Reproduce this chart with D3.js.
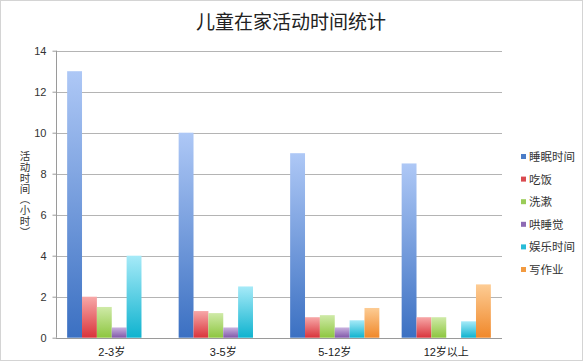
<!DOCTYPE html>
<html><head><meta charset="utf-8">
<script src="https://cdn.jsdelivr.net/npm/d3@7"></script>
<style>html,body{margin:0;padding:0;background:#fff;}svg{display:block;}</style>
</head><body>
<script>
const categories = ["2-3岁", "3-5岁", "5-12岁", "12岁以上"];
const seriesNames = ["睡眠时间", "吃饭", "洗漱", "哄睡觉", "娱乐时间", "写作业"];
const sleep   = [13, 10, 9, 8.5];
const meal    = [2, 1.3, 1.0, 1.0];
const wash    = [1.5, 1.2, 1.1, 1.0];
const coax    = [0.5, 0.5, 0.5, 0];
const play    = [4, 2.5, 0.85, 0.8];
const homework= [0, 0, 1.45, 2.6];
const yTicks = [0, 2, 4, 6, 8, 10, 12, 14];
const seriesValues = [sleep, meal, wash, coax, play, homework];
const colors = [
  ["#aec8f6", "#3b70c2"],
  ["#f7a8a8", "#d9343b"],
  ["#cfeaa8", "#8dc63f"],
  ["#c9b2df", "#8058a9"],
  ["#a6eaf8", "#0fb3cf"],
  ["#fdcc94", "#f0882a"]
];
const legendColors = ["#4a7cc8", "#d94a50", "#9acc58", "#8e6ab4", "#28bcd8", "#f29a40"];

const W = 583, H = 361;
const svg = d3.select("body").append("svg").attr("width", W).attr("height", H);
svg.append("rect").attr("x", 0.5).attr("y", 0.5).attr("width", W - 1).attr("height", H - 1)
  .attr("fill", "#fff").attr("stroke", "#d4d4d4");

const defs = svg.append("defs");
colors.forEach((c, i) => {
  const g = defs.append("linearGradient").attr("id", "g" + i).attr("x1", 0).attr("y1", 0).attr("x2", 0).attr("y2", 1);
  g.append("stop").attr("offset", "0%").attr("stop-color", c[0]);
  g.append("stop").attr("offset", "100%").attr("stop-color", c[1]);
});

const pLeft = 56, pRight = 502, pTop = 50.7, pBottom = 337.7;
const y = d3.scaleLinear().domain([0, 14]).range([pBottom, pTop]);
const x0 = d3.scaleBand().domain(categories).range([pLeft, pRight]).paddingInner(0.2).paddingOuter(0.1);
const x1 = d3.scaleBand().domain(seriesNames).range([0, x0.bandwidth()]);

// gridlines
svg.append("g").selectAll("line").data(yTicks.filter(d => d > 0)).join("line")
  .attr("x1", pLeft).attr("x2", pRight)
  .attr("y1", d => Math.round(y(d)) + 0.5).attr("y2", d => Math.round(y(d)) + 0.5)
  .attr("stroke", "#b4b4b4").attr("stroke-width", 1);

// y axis
const yAxis = d3.axisLeft(y).tickValues(yTicks).tickSize(4).tickPadding(6);
const ya = svg.append("g").attr("transform", `translate(${pLeft + 0.5},0)`).call(yAxis);
ya.select(".domain").attr("stroke", "#9a9a9a").attr("d", `M0,${y(14)}V${y(0)}`);
ya.selectAll(".tick line").attr("stroke", "#9a9a9a");
ya.selectAll(".tick text").attr("fill", "#333").style("font-family", "Liberation Sans, Arial, sans-serif").style("font-size", "11px");

// bars
const groups = svg.append("g").selectAll("g").data(categories).join("g")
  .attr("transform", d => `translate(${x0(d)},0)`);
groups.selectAll("rect").data((c, ci) => seriesNames.map((s, si) => ({ s, si, v: seriesValues[si][ci] })))
  .join("rect")
  .attr("x", d => x1(d.s))
  .attr("width", x1.bandwidth())
  .attr("y", d => y(d.v))
  .attr("height", d => y(0) - y(d.v))
  .attr("fill", d => `url(#g${d.si})`);

// x axis
const xAxis = d3.axisBottom(x0).tickSize(0).tickPadding(10);
const xa = svg.append("g").attr("transform", `translate(0,${Math.round(pBottom) + 0.5})`).call(xAxis);
xa.select(".domain").attr("stroke", "#9a9a9a").attr("d", `M${pLeft},0H${pRight}`);
xa.selectAll(".tick text").attr("fill", "#222").style("font-family", "Liberation Sans, Noto Sans CJK SC, sans-serif").style("font-size", "11px");

// title
svg.append("text").attr("x", 291).attr("y", 29).attr("text-anchor", "middle")
  .style("font-family", "Noto Sans CJK SC, sans-serif").style("font-size", "19px").attr("fill", "#222")
  .text("儿童在家活动时间统计");

// y axis title (vertical writing)
svg.append("text").attr("x", 25).attr("y", 151)
  .style("writing-mode", "vertical-rl")
  .style("font-family", "Noto Sans CJK SC, sans-serif").style("font-size", "10.5px")
  .style("letter-spacing", "0.3px").attr("fill", "#333")
  .text("活动时间（小时）");

// legend
const lg = svg.append("g");
seriesNames.forEach((s, i) => {
  const ly = 157 + i * 22.6;
  lg.append("rect").attr("x", 521).attr("y", ly - 3).attr("width", 5).attr("height", 5).attr("fill", legendColors[i]);
  lg.append("text").attr("x", 529).attr("y", ly).attr("dy", "0.35em")
    .style("font-family", "Noto Sans CJK SC, sans-serif").style("font-size", "11.5px").attr("fill", "#333").text(s);
});
</script>
</body></html>
